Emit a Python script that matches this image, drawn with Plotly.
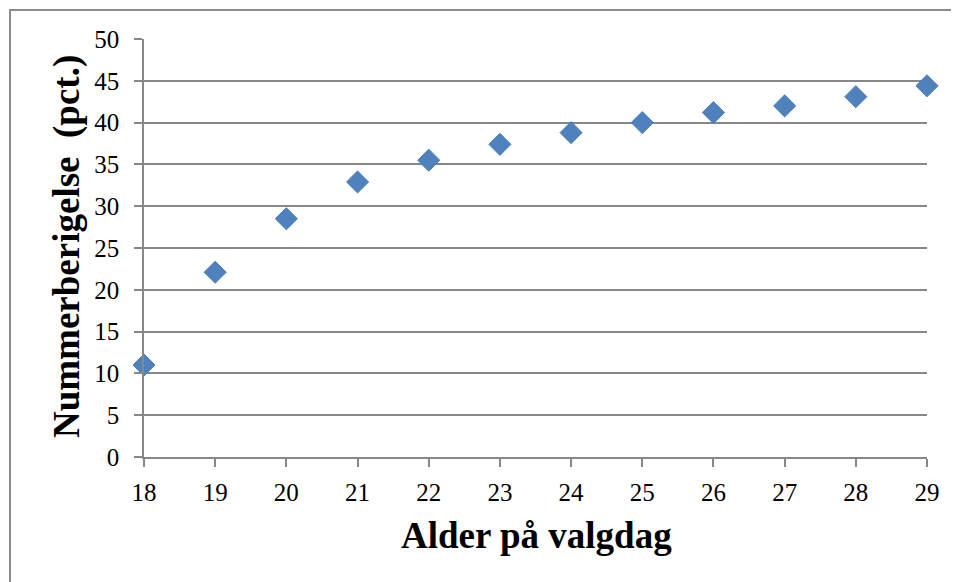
import plotly.graph_objects as go

ages = [18, 19, 20, 21, 22, 23, 24, 25, 26, 27, 28, 29]
turnout = [11.0, 22.1, 28.5, 32.9, 35.5, 37.4, 38.8, 40.0, 41.2, 42.0, 43.1, 44.4]
y_ticks = [0, 5, 10, 15, 20, 25, 30, 35, 40, 45, 50]

x_title = "Alder på valgdag"
y_title = "Nummerberigelse  (pct.)"

W, H = 959, 582
OFF = 8  # page body margin
# target pixel positions in the page
PL, PR, PT, PB = 144, 927, 39, 457
L = PL - OFF
T = PT - OFF
R = W - (PR - OFF)
B = H - (PB - OFF)
pw, ph = W - L - R, H - T - B

def px_x(p):
    return (p - OFF - L) / pw

def px_y(p):
    return (H - B - (p - OFF)) / ph

fig = go.Figure()
fig.add_trace(go.Scatter(
    x=ages, y=turnout, mode="markers",
    marker=dict(symbol="diamond", size=17, color="#4F81BD",
                line=dict(color="#4A7EBB", width=1)),
    showlegend=False, cliponaxis=False,
))

grid = "#878787"
font = "Liberation Serif, Times New Roman, serif"
fig.update_layout(
    width=W, height=H,
    margin=dict(l=L, r=R, t=T, b=B, autoexpand=False),
    paper_bgcolor="white", plot_bgcolor="white",
    font=dict(family=font, color="black"),
    xaxis=dict(range=[18, 29], tickvals=ages, ticks="outside", ticklen=8,
               tickcolor=grid, tickwidth=1.5, showgrid=False, showline=True,
               linecolor=grid, linewidth=1.5, zeroline=False,
               tickfont=dict(size=25, family=font), ticklabelstandoff=4),
    yaxis=dict(range=[0, 50], tickvals=y_ticks, ticks="outside", ticklen=8,
               tickcolor=grid, tickwidth=1.5, showgrid=True, gridcolor=grid,
               gridwidth=1.5, showline=True, linecolor=grid, linewidth=1.5,
               zeroline=False, tickfont=dict(size=25, family=font),
               ticklabelstandoff=10),
    annotations=[
        dict(text="<b>" + x_title + "</b>", xref="paper", yref="paper",
             x=px_x(536), y=px_y(535), showarrow=False,
             font=dict(size=37, family=font), xanchor="center", yanchor="middle"),
        dict(text="<b>" + y_title + "</b>", xref="paper", yref="paper",
             x=px_x(67), y=px_y(247), showarrow=False, textangle=-90,
             font=dict(size=37, family=font), xanchor="center", yanchor="middle"),
    ],
    shapes=[
        dict(type="rect", xref="paper", yref="paper",
             x0=px_x(10), x1=px_x(990), y0=px_y(620), y1=px_y(10),
             line=dict(color="#8C8C8C", width=2), fillcolor="rgba(0,0,0,0)",
             layer="below"),
    ],
)

fig.write_html("out.html")
